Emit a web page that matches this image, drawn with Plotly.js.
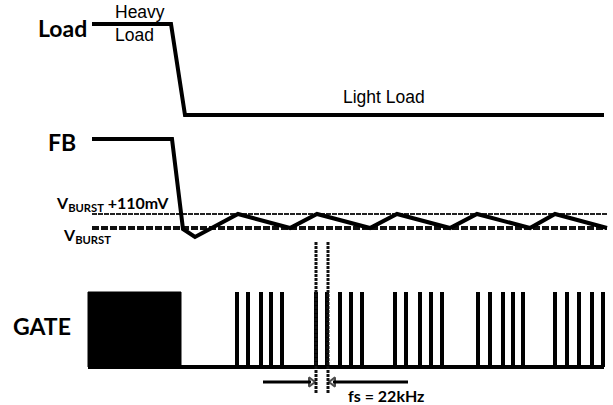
<!DOCTYPE html>
<html>
<head>
<meta charset="utf-8">
<script src="https://cdn.plot.ly/plotly-3.0.1.min.js"></script>
<style>html,body{margin:0;padding:0;background:#fff}#chart{width:613px;height:405px}</style>
</head>
<body>
<div id="chart"></div>
<script>
// Schematic timing diagram (units: horizontal time position, vertical drawing level)
const loadX = [92, 171, 185, 604];
const loadY = [24, 24, 115, 115];

const fbX = [92, 172, 183, 195, 238, 290, 317, 370, 397, 450, 477, 530, 555, 607];
const fbY = [139, 139, 229, 237, 214, 228, 214, 228, 214, 228, 214, 228, 214, 228];

const vburstHi = 214;   // V_BURST + 110mV level
const vburstLo = 228;   // V_BURST level
const refStart = 92, refEnd = 607;

const gateHigh = 292, gateLow = 367;
const gateBlockX = [88, 181];
const gateEnd = 604;
const pulseX = [237, 248, 261, 271, 282,
                316, 327, 340, 351, 362,
                395, 406, 420, 431, 442,
                478, 490, 503, 513, 523,
                555, 567, 579, 592, 603];

const markX = [316, 328];
const markY = [242, 394];
const arrowY = 382;
const arrowL = [263, 311];
const arrowR = [408, 333];

const traces = [];
const blk = '#000';

traces.push({x: loadX, y: loadY, mode: 'lines', line: {color: blk, width: 4}});
traces.push({x: [refStart, refEnd], y: [vburstHi, vburstHi], mode: 'lines', line: {color: '#222', width: 2, dash: '5px,1px'}});
traces.push({x: [refStart, refEnd], y: [vburstLo, vburstLo], mode: 'lines', line: {color: '#111', width: 4, dash: '7px,2px'}});
traces.push({x: fbX, y: fbY, mode: 'lines', line: {color: blk, width: 4}});

// gate block
traces.push({x: [gateBlockX[0], gateBlockX[1], gateBlockX[1], gateBlockX[0], gateBlockX[0]],
             y: [gateLow, gateLow, gateHigh, gateHigh, gateLow],
             mode: 'lines', fill: 'toself', fillcolor: blk, line: {color: blk, width: 1}});
// baseline
traces.push({x: [gateBlockX[0], gateEnd], y: [gateLow, gateLow], mode: 'lines', line: {color: blk, width: 4}});
// pulses
const px = [], py = [];
pulseX.forEach(p => { px.push(p, p, null); py.push(gateLow, gateHigh, null); });
traces.push({x: px, y: py, mode: 'lines', line: {color: blk, width: 4}});
// markers
markX.forEach(m => traces.push({x: [m, m], y: markY, mode: 'lines', line: {color: '#111', width: 3, dash: '3px,1px'}}));
// arrows
traces.push({x: arrowL, y: [arrowY, arrowY], mode: 'lines+markers', line: {color: blk, width: 3},
  marker: {symbol: ['circle', 'triangle-right-open'], size: [0, 8], color: blk, line: {width: 2, color: blk}}});
traces.push({x: arrowR, y: [arrowY, arrowY], mode: 'lines+markers', line: {color: blk, width: 3},
  marker: {symbol: ['circle', 'triangle-left-open'], size: [0, 8], color: blk, line: {width: 2, color: blk}}});

const bold = {family: 'Lato, sans-serif', size: 23, color: blk, weight: 'bold'};
const reg = {family: 'Liberation Sans, Arial, sans-serif', size: 17.5, color: blk};
const small = {family: 'Lato, sans-serif', size: 16, color: blk, weight: 'bold'};
function ann(text, x, y, font, xa) {
  return {text: text, x: x, y: y, xref: 'x', yref: 'y', showarrow: false, font: font, xanchor: xa || 'left', yanchor: 'middle'};
}
const annotations = [
  ann('<b>Load</b>', 36, 28, bold),
  ann('<b>FB</b>', 46, 142, bold),
  ann('<b>GATE</b>', 11, 326, bold),
  ann('Heavy', 113, 12, reg),
  ann('Load', 113, 35, reg),
  ann('Light Load', 341, 97, reg),
  ann('<b>V<sub>BURST</sub> +110mV</b>', 54, 203, small),
  ann('<b>V<sub>BURST</sub></b>', 61, 235, small),
  ann('<b>fs = 22kHz</b>', 346, 395, {family: 'Lato, sans-serif', size: 16, color: blk, weight: 'bold'})
];

const layout = {
  width: 613, height: 405,
  margin: {l: 0, r: 0, t: 0, b: 0},
  paper_bgcolor: '#fff', plot_bgcolor: '#fff',
  showlegend: false,
  xaxis: {range: [0, 613], visible: false, fixedrange: true},
  yaxis: {range: [405, 0], visible: false, fixedrange: true},
  annotations: annotations
};
Plotly.newPlot('chart', traces, layout, {displayModeBar: false, staticPlot: true});
</script>
</body>
</html>
